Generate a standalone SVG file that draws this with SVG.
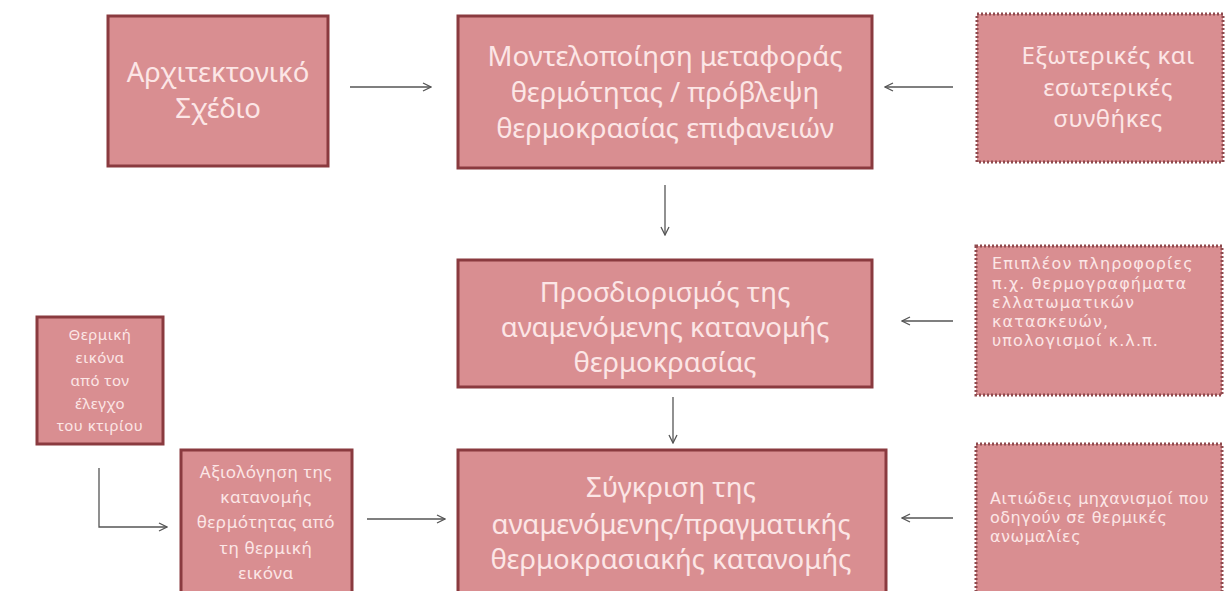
<svg xmlns="http://www.w3.org/2000/svg" width="1225" height="591" viewBox="0 0 1225 591">
<defs>
<style>
.box{fill:#d98e91;stroke:#8a3a3f;stroke-width:3}
.dot{fill:#d98e91;stroke:#8f4a4e;stroke-width:3;stroke-dasharray:2 2}
.t{font-family:"Noto Sans","Open Sans",sans-serif;fill:#fce6e6;text-anchor:middle}
.big{font-size:27.5px}
.ext{font-size:24px;letter-spacing:0.5px}
.mid{font-family:"DejaVu Sans",sans-serif;font-size:16px;letter-spacing:1.1px}
.nar{letter-spacing:0.5px}
.ev{font-size:17px;letter-spacing:0.6px}
.sm{font-size:15px;letter-spacing:0.5px}
.l{text-anchor:start}
.c{fill:none;stroke:#555;stroke-width:1.3;marker-end:url(#ah)}
</style>
<marker id="ah" viewBox="0 0 10 10" refX="9" refY="5" markerWidth="10" markerHeight="10" markerUnits="userSpaceOnUse" orient="auto">
<path d="M1 1 L9 5 L1 9" fill="none" stroke="#555" stroke-width="1.3"/>
</marker>
</defs>
<rect width="1225" height="591" fill="#fff"/>
<g id="connectors">
<line class="c" x1="350" y1="87" x2="431" y2="87"/>
<line class="c" x1="953" y1="87" x2="885" y2="87"/>
<line class="c" x1="665" y1="185" x2="665" y2="235"/>
<line class="c" x1="953" y1="321" x2="902" y2="321"/>
<line class="c" x1="673" y1="397" x2="673" y2="443"/>
<line class="c" x1="953" y1="518" x2="902" y2="518"/>
<line class="c" x1="367" y1="519" x2="445" y2="519"/>
<polyline class="c" points="99,468 99,527 167,527"/>
</g>
<g id="n1">
<rect class="box" x="108" y="16" width="220" height="150"/>
<text class="t big" x="218" y="82">Αρχιτεκτονικό</text>
<text class="t big" x="218" y="118">Σχέδιο</text>
</g>
<g id="n2">
<rect class="box" x="458" y="16" width="414" height="152"/>
<text class="t big" x="665" y="66">Μοντελοποίηση μεταφοράς</text>
<text class="t big" x="665" y="102">θερμότητας / πρόβλεψη</text>
<text class="t big" x="665" y="138">θερμοκρασίας επιφανειών</text>
</g>
<g id="n3">
<rect class="dot" x="977" y="14" width="246" height="148"/>
<text class="t ext" x="1108" y="64">Εξωτερικές και</text>
<text class="t ext" x="1108" y="96">εσωτερικές</text>
<text class="t ext" x="1108" y="127">συνθήκες</text>
</g>
<g id="n4">
<rect class="box" x="458" y="260" width="414" height="127"/>
<text class="t big" x="665" y="302">Προσδιορισμός της</text>
<text class="t big" x="665" y="337">αναμενόμενης κατανομής</text>
<text class="t big" x="665" y="372">θερμοκρασίας</text>
</g>
<g id="n5">
<rect class="dot" x="976" y="246" width="246" height="149"/>
<text class="t mid l" x="992" y="269">Επιπλέον πληροφορίες</text>
<text class="t mid l" x="992" y="289">π.χ. θερμογραφήματα</text>
<text class="t mid l" x="992" y="308">ελλατωματικών</text>
<text class="t mid l" x="992" y="327">κατασκευών,</text>
<text class="t mid l" x="992" y="346">υπολογισμοί κ.λ.π.</text>
</g>
<g id="n6">
<rect class="box" x="37" y="317" width="126" height="127"/>
<text class="t sm" x="100" y="340">Θερμική</text>
<text class="t sm" x="100" y="363">εικόνα</text>
<text class="t sm" x="100" y="386">από τον</text>
<text class="t sm" x="100" y="409">έλεγχο</text>
<text class="t sm" x="100" y="431">του κτιρίου</text>
</g>
<g id="n7">
<rect class="box" x="181" y="450" width="171" height="145"/>
<text class="t ev" x="266" y="478">Αξιολόγηση της</text>
<text class="t ev" x="266" y="503">κατανομής</text>
<text class="t ev" x="266" y="528">θερμότητας από</text>
<text class="t ev" x="266" y="554">τη θερμική</text>
<text class="t ev" x="266" y="579">εικόνα</text>
</g>
<g id="n8">
<rect class="box" x="458" y="450" width="428" height="145"/>
<text class="t big" x="671" y="497">Σύγκριση της</text>
<text class="t big" x="671" y="534">αναμενόμενης/πραγματικής</text>
<text class="t big" x="671" y="569">θερμοκρασιακής κατανομής</text>
</g>
<g id="n9">
<rect class="dot" x="976" y="444" width="246" height="150"/>
<text class="t mid nar l" x="990" y="504">Αιτιώδεις μηχανισμοί που</text>
<text class="t mid nar l" x="990" y="523">οδηγούν σε θερμικές</text>
<text class="t mid nar l" x="990" y="542">ανωμαλίες</text>
</g>
</svg>
